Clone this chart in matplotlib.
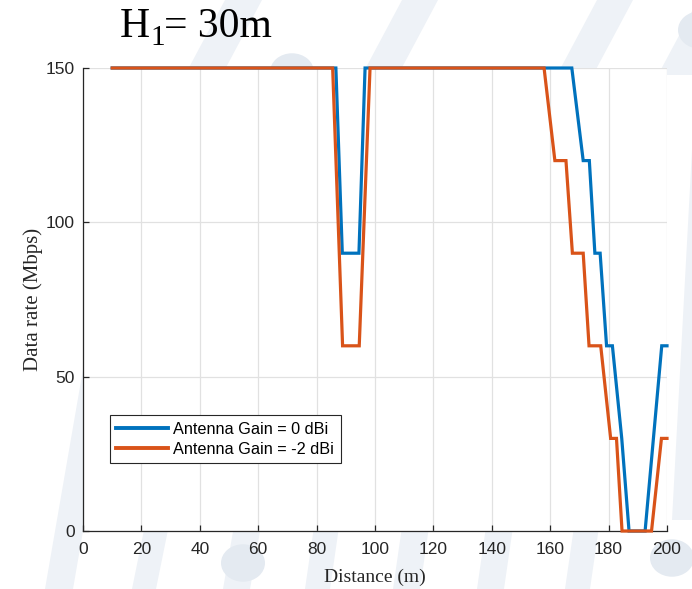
import matplotlib
matplotlib.use("Agg")
import matplotlib.pyplot as plt
from matplotlib.patches import Polygon, Circle

# Data rate versus distance for two antenna gains
dist_gain0 = [10, 86.6, 88.8, 94.5, 96.6, 167.4, 171.3, 173.4, 175.3, 177.1,
              179.3, 181.3, 184.5, 187.0, 192.5, 198.2, 200]
rate_gain0 = [150, 150, 90, 90, 150, 150, 120, 120, 90, 90,
              60, 60, 30, 0, 0, 60, 60]

dist_gain_m2 = [10, 85.5, 88.9, 94.6, 98.3, 157.9, 161.6, 165.4, 167.6, 171.3,
                173.3, 177.3, 180.7, 182.7, 184.6, 194.7, 198.1, 200]
rate_gain_m2 = [150, 150, 60, 60, 150, 150, 120, 120, 90, 90,
                60, 60, 30, 30, 0, 0, 30, 30]

labels = ["Antenna Gain = 0 dBi", "Antenna Gain = -2 dBi"]
x_ticks = list(range(0, 201, 20))
y_ticks = [0, 50, 100, 150]

W, H = 692, 589
fig = plt.figure(figsize=(W / 100, H / 100), dpi=100)
fig.patch.set_facecolor("white")


def px(x, y):
    return (x / W, 1 - y / H)


# faint background watermark stripes
stripe_col = "#eef2f7"
circle_col = "#e4eaf1"
stripes = [
    # bottom / left margin (near vertical)
    [(45, 589), (73, 589), (123, 300), (95, 300)],
    [(132, 589), (156, 589), (170, 520), (146, 520)],
    [(223, 589), (250, 589), (262, 520), (235, 520)],
    [(305, 589), (330, 589), (340, 520), (315, 520)],
    [(393, 589), (420, 589), (430, 520), (403, 520)],
    [(477, 589), (504, 589), (514, 520), (487, 520)],
    [(565, 589), (590, 589), (600, 520), (575, 520)],
    # right margin
    [(672, 520), (700, 520), (700, 150), (692, 150)],
    # top margin (steeper slant)
    [(185, 75), (222, 75), (262, 0), (225, 0)],
    [(362, 75), (398, 75), (438, 0), (402, 0)],
    [(557, 75), (593, 75), (633, 0), (597, 0)],
    [(658, 75), (694, 75), (734, 0), (698, 0)],
]
for s in stripes:
    fig.patches.append(Polygon([px(*p) for p in s], closed=True,
                               transform=fig.transFigure, facecolor=stripe_col,
                               edgecolor="none", zorder=-2))
for cx, cy, r in [(292, 72, 22), (243, 563, 22), (672, 558, 22), (700, 30, 22)]:
    fig.patches.append(Circle(px(cx, cy), r / W, transform=fig.transFigure,
                              facecolor=circle_col, edgecolor="none", zorder=-1))

ax = fig.add_axes([83 / W, 1 - 531 / H, 584 / W, 463 / H])
ax.set_facecolor("white")

blue = "#0072BD"
orange = "#D95319"
ax.plot(dist_gain0, rate_gain0, color=blue, lw=2.3, label=labels[0],
        clip_on=False, zorder=3, solid_joinstyle="miter")
ax.plot(dist_gain_m2, rate_gain_m2, color=orange, lw=2.3, label=labels[1],
        clip_on=False, zorder=4, solid_joinstyle="miter")

ax.set_xlim(0, 200)
ax.set_ylim(0, 150)
ax.set_xticks(x_ticks)
ax.set_yticks(y_ticks)
ax.grid(True, color="#e1e1e1", lw=0.9)
ax.set_axisbelow(True)

for side in ("top", "right"):
    ax.spines[side].set_visible(False)
for side in ("left", "bottom"):
    ax.spines[side].set_color("#262626")
    ax.spines[side].set_linewidth(0.9)

ax.tick_params(direction="in", length=4, width=0.9, colors="#262626",
               labelsize=12.5)
ax.tick_params(axis="x", pad=8)
ax.tick_params(axis="y", pad=6)
for lab in ax.get_xticklabels() + ax.get_yticklabels():
    lab.set_fontfamily("Liberation Sans")

ax.set_xlabel("Distance (m)", family="Liberation Serif", fontsize=14,
              color="#262626", labelpad=8)
ax.set_ylabel("Data rate (Mbps)", family="Liberation Serif", fontsize=15,
              color="#262626", labelpad=2)

leg = ax.legend(loc="upper left", bbox_to_anchor=(0.046, 0.2505),
                prop={"family": "Liberation Sans", "size": 11.7},
                fancybox=False, framealpha=1, edgecolor="#262626",
                handlelength=3.2, handletextpad=0.3, labelspacing=0.32,
                borderpad=0.4, borderaxespad=0)
leg.get_frame().set_linewidth(0.8)
for line in leg.get_lines():
    line.set_linewidth(2.8)

# title built from pieces so the subscript can sit low and large
renderer = fig.canvas.get_renderer()
base_y = 1 - 37 / H
t1 = fig.text(120 / W, base_y, "H", family="Liberation Serif", fontsize=30,
              ha="left", va="baseline")
x1 = t1.get_window_extent(renderer).x1 / W
t2 = fig.text(x1 + 0.5 / W, base_y - 8 / H, "1", family="Liberation Serif",
              fontsize=21, ha="left", va="baseline")
x2 = t2.get_window_extent(renderer).x1 / W
fig.text(x2 - 1 / W, base_y, "= 30m", family="Liberation Serif", fontsize=30,
         ha="left", va="baseline")

fig.savefig("out.png", dpi=100, facecolor="white")
